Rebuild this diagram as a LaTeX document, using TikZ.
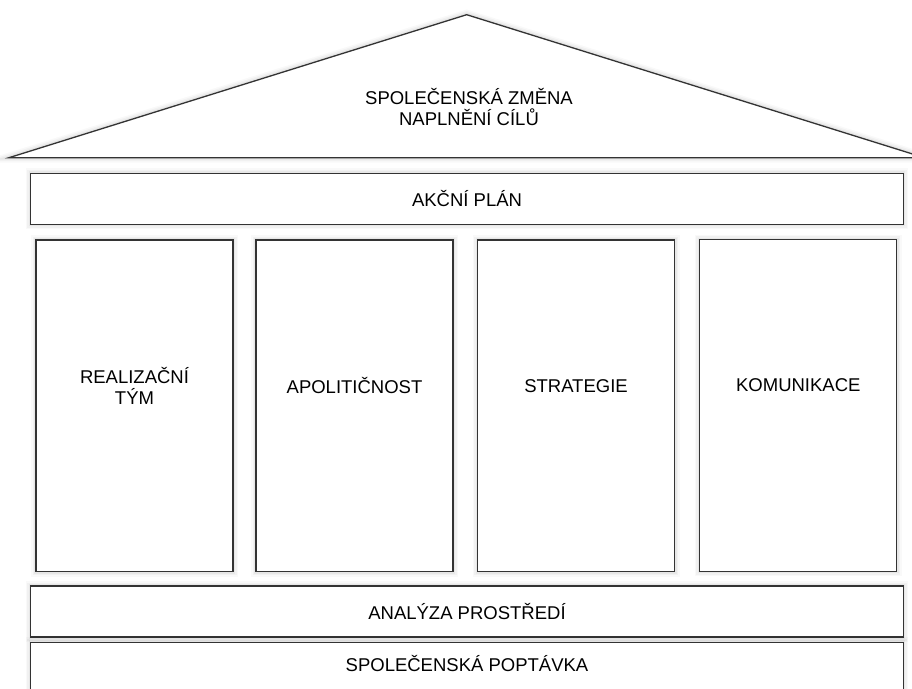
\documentclass[tikz,border=0pt]{standalone}
\usepackage{fontspec}
\setmainfont{Liberation Sans}
\definecolor{edge}{HTML}{333333}
\tikzset{
  soft/.style={
    preaction={draw=black, line width=10pt, opacity=0.025},
    preaction={draw=black, line width=7pt, opacity=0.03},
    preaction={draw=black, line width=4pt, opacity=0.04}},
  box/.style={draw=edge, line width=1.3pt, fill=white, inner sep=0pt, outer sep=0pt, align=center,
    font=\fontsize{18.5}{20.5}\selectfont, soft},
  band/.style={box, minimum width=872.6pt, minimum height=51pt},
  pillar/.style={box, minimum width=197pt, minimum height=331.5pt},
  txt/.style={align=center, font=\fontsize{18.5}{20.5}\selectfont, inner sep=0pt},
}
\begin{document}
\begin{tikzpicture}[x=1pt,y=-1pt]
\useasboundingbox (0,0) rectangle (912,688);
\clip (0,0) rectangle (912,688);
\fill[white] (0,0) rectangle (912,688);
% roof
\coordinate (rl) at (9,157.7);
\coordinate (ra) at (466.7,14.7);
\coordinate (rr) at (924.4,157.7);
\path[draw=edge, line width=1.3pt, fill=white, soft] (rl) -- (ra) -- (rr) -- cycle;
\node[txt] (roof) at (469,107) {SPOLEČENSKÁ ZMĚNA\\NAPLNĚNÍ CÍLŮ};
% action plan
\node[band] (plan) at (467,198.8) {AKČNÍ PLÁN};
% pillars
\node[pillar, label={[txt, yshift=20pt]center:REALIZAČNÍ\\TÝM}] (team) at (134.5,405.8) {};
\node[pillar, label={[txt, yshift=20pt]center:APOLITIČNOST}] (apol) at (354.5,405.8) {};
\node[pillar, label={[txt, yshift=20pt]center:STRATEGIE}] (strat) at (576,405.8) {};
\node[pillar, label={[txt, yshift=20pt]center:KOMUNIKACE}] (kom) at (798.3,405.5) {};
% foundations
\node[band] (anal) at (467,611.5) {ANALÝZA PROSTŘEDÍ};
\node[band, label={[txt, yshift=4pt]center:SPOLEČENSKÁ POPTÁVKA}] (popt) at (467,667.8) {};
\end{tikzpicture}
\end{document}
